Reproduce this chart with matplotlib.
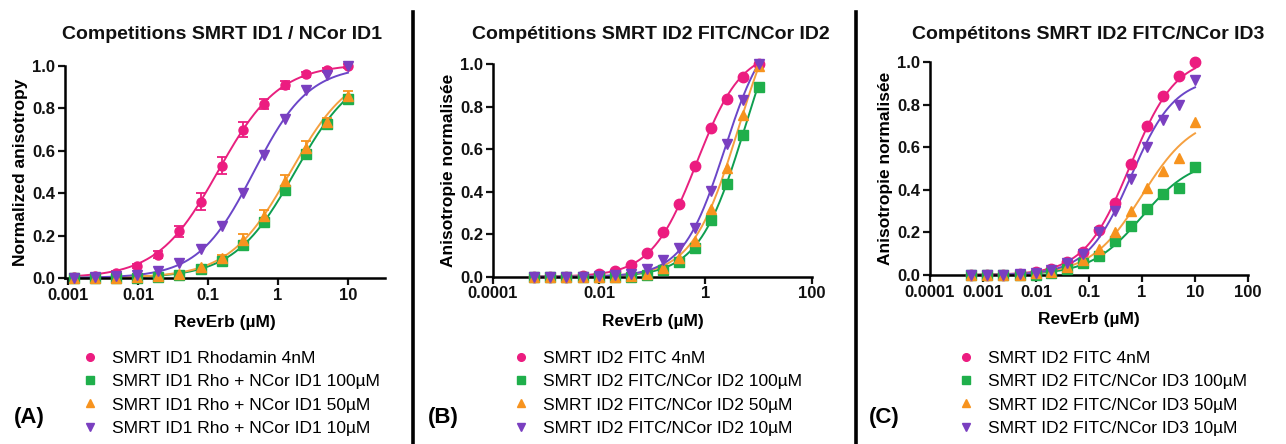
import numpy as np
import matplotlib.pyplot as plt
from matplotlib.lines import Line2D

plt.rcParams['font.family'] = ['Liberation Sans', 'DejaVu Sans']

# concentrations (uM), 2-fold dilutions from 10
conc_a = [10, 5, 2.5, 1.25, 0.625, 0.3125, 0.156, 0.078, 0.039, 0.0195, 0.0098, 0.0049, 0.0024, 0.0012]
conc_bc = [10, 5, 2.5, 1.25, 0.625, 0.3125, 0.156, 0.078, 0.039, 0.0195, 0.0098, 0.0049, 0.0024, 0.0012, 0.0006]

# panel A values
a_rho = [1.0, 0.98, 0.96, 0.91, 0.82, 0.70, 0.53, 0.36, 0.22, 0.11, 0.055, 0.025, 0.01, 0.005]
a_100 = [0.845, 0.725, 0.585, 0.415, 0.265, 0.155, 0.08, 0.04, 0.015, 0.005, 0.0, 0.0, 0.0, 0.0]
a_50 = [0.86, 0.735, 0.615, 0.455, 0.29, 0.18, 0.095, 0.05, 0.02, 0.01, 0.005, 0.0, 0.0, 0.0]
a_10 = [1.0, 0.955, 0.885, 0.75, 0.58, 0.40, 0.245, 0.135, 0.07, 0.035, 0.015, 0.008, 0.005, 0.0]
a_rho_err = [0.01, 0.01, 0.01, 0.02, 0.025, 0.035, 0.04, 0.04, 0.025, 0.015, 0.01, 0.01, 0.01, 0.01]
a_100_err = [0.02, 0.02, 0.02, 0.02, 0.02, 0.015, 0.01, 0.01, 0.01, 0.0, 0.0, 0.0, 0.0, 0.0]
a_50_err = [0.02, 0.02, 0.03, 0.03, 0.03, 0.025, 0.015, 0.01, 0.01, 0.0, 0.0, 0.0, 0.0, 0.0]

# panel B values
b_fitc = [1.0, 0.94, 0.835, 0.70, 0.52, 0.34, 0.21, 0.11, 0.055, 0.028, 0.012, 0.005, 0.0, 0.0, 0.0]
b_100 = [0.89, 0.665, 0.435, 0.265, 0.135, 0.07, 0.03, 0.01, 0.0, 0.0, 0.0, 0.0, 0.0, 0.0, 0.0]
b_50 = [0.99, 0.76, 0.51, 0.32, 0.17, 0.09, 0.04, 0.015, 0.005, 0.0, 0.0, 0.0, 0.0, 0.0, 0.0]
b_10 = [1.0, 0.83, 0.625, 0.405, 0.23, 0.135, 0.078, 0.035, 0.015, 0.01, 0.005, 0.0, 0.0, 0.0, 0.0]

# panel C values
c_fitc = [1.0, 0.935, 0.84, 0.70, 0.52, 0.34, 0.21, 0.11, 0.063, 0.027, 0.016, 0.005, 0.0, 0.0, 0.0]
c_100 = [0.51, 0.41, 0.38, 0.31, 0.23, 0.16, 0.09, 0.055, 0.027, 0.008, 0.0, 0.0, 0.0, 0.0, 0.0]
c_50 = [0.72, 0.55, 0.49, 0.41, 0.30, 0.20, 0.12, 0.07, 0.04, 0.015, 0.01, 0.0, 0.0, 0.0, 0.0]
c_10 = [0.915, 0.80, 0.73, 0.60, 0.45, 0.30, 0.20, 0.10, 0.055, 0.025, 0.01, 0.005, 0.0, 0.0, 0.0]

# fitted curve params (top, EC50, hill), bottom = 0
a_fits = [(1.01, 0.14, 1.0), (1.0, 1.75, 1.0), (1.0, 1.5, 1.0), (1.0, 0.45, 1.1)]
b_fits = [(1.07, 0.68, 1.02), (1.4, 5.5, 1.0), (1.4, 4.2, 1.0), (1.2, 2.3, 1.1)]
c_fits = [(1.03, 0.6, 1.0), (0.55, 1.0, 0.9), (0.75, 1.0, 0.9), (0.93, 0.62, 1.05)]

titles = ['Competitions SMRT ID1 / NCor ID1', 'Compétitions SMRT ID2 FITC/NCor ID2',
          'Compétitons SMRT ID2 FITC/NCor ID3']
ylabels = ['Normalized anisotropy', 'Anisotropie normalisée', 'Anisotropie normalisée']
a_labels = ['SMRT ID1 Rhodamin 4nM', 'SMRT ID1 Rho + NCor ID1 100µM',
            'SMRT ID1 Rho + NCor ID1 50µM', 'SMRT ID1 Rho + NCor ID1 10µM']
b_labels = ['SMRT ID2 FITC 4nM', 'SMRT ID2 FITC/NCor ID2 100µM',
            'SMRT ID2 FITC/NCor ID2 50µM', 'SMRT ID2 FITC/NCor ID2 10µM']
c_labels = ['SMRT ID2 FITC 4nM', 'SMRT ID2 FITC/NCor ID3 100µM',
            'SMRT ID2 FITC/NCor ID3 50µM', 'SMRT ID2 FITC/NCor ID3 10µM']
panel_tags = ['(A)', '(B)', '(C)']

a_xticks = [0.001, 0.01, 0.1, 1, 10]
a_xticklabels = ['0.001', '0.01', '0.1', '1', '10']
b_xticks = [0.0001, 0.01, 1, 100]
b_xticklabels = ['0.0001', '0.01', '1', '100']
c_xticks = [0.0001, 0.001, 0.01, 0.1, 1, 10, 100]
c_xticklabels = ['0.0001', '0.001', '0.01', '0.1', '1', '10', '100']

colors = ['#EC1C80', '#1FAF4B', '#F7931E', '#7A3FC0']
line_colors = ['#E8207F', '#0E9E50', '#F5A040', '#6B46C8']
markers = ['o', 's', '^', 'v']

fig = plt.figure(figsize=(12.86, 4.44), dpi=100)

panels = [
    dict(rect=[0.0505, 0.374, 0.249, 0.4775], conc=conc_a, ys=[a_rho, a_100, a_50, a_10],
         errs=[a_rho_err, a_100_err, a_50_err, None], fits=a_fits, xlim=(0.0009, 34),
         xt=a_xticks, xtl=a_xticklabels, labels=a_labels, ms=6.5,
         title_x=0.173, leg_x=0.064, tag_x=0.011),
    dict(rect=[0.3834, 0.3768, 0.2478, 0.4791], conc=conc_bc, ys=[b_fitc, b_100, b_50, b_10],
         errs=[None] * 4, fits=b_fits, xlim=(0.0001, 100),
         xt=b_xticks, xtl=b_xticklabels, labels=b_labels, ms=7.5,
         title_x=0.506, leg_x=0.399, tag_x=0.333),
    dict(rect=[0.7232, 0.3806, 0.2473, 0.4791], conc=conc_bc, ys=[c_fitc, c_100, c_50, c_10],
         errs=[None] * 4, fits=c_fits, xlim=(0.0001, 100),
         xt=c_xticks, xtl=c_xticklabels, labels=c_labels, ms=7.5,
         title_x=0.846, leg_x=0.745, tag_x=0.676),
]

for i, p in enumerate(panels):
    ax = fig.add_axes(p['rect'])
    x = np.array(p['conc'])
    xc = np.logspace(np.log10(x.min()), np.log10(x.max()), 300)
    for j in range(4):
        top, ec50, n = p['fits'][j]
        yc = top * xc ** n / (ec50 ** n + xc ** n)
        ax.plot(xc, yc, color=line_colors[j], lw=1.4, zorder=2, clip_on=False)
        if p['errs'][j] is not None:
            ax.errorbar(x, p['ys'][j], yerr=p['errs'][j], fmt='none', ecolor=colors[j],
                        elinewidth=1.3, capsize=3.5, capthick=1.3, zorder=3, clip_on=False)
        ax.plot(x, p['ys'][j], linestyle='none', marker=markers[j], ms=p['ms'],
                color=colors[j], mec=colors[j], zorder=4, clip_on=False)

    ax.set_xscale('log')
    ax.set_xlim(*p['xlim'])
    ax.set_ylim(0, 1.0)
    ax.set_xticks(p['xt'])
    ax.set_xticklabels(p['xtl'])
    ax.minorticks_off()
    ax.set_yticks([0, 0.2, 0.4, 0.6, 0.8, 1.0])
    ax.set_yticklabels(['0.0', '0.2', '0.4', '0.6', '0.8', '1.0'])
    for s in ['top', 'right']:
        ax.spines[s].set_visible(False)
    for s in ['left', 'bottom']:
        ax.spines[s].set_linewidth(1.8)
    ax.tick_params(width=1.6, length=5, labelsize=12, pad=2, colors='#111111')
    for lab in ax.get_xticklabels() + ax.get_yticklabels():
        lab.set_fontweight('bold')
    ax.set_xlabel('RevErb (µM)', fontsize=12.5, fontweight='bold', labelpad=9)
    ax.set_ylabel(ylabels[i], fontsize=12.5, fontweight='bold', labelpad=3)

    fig.text(p['title_x'], 0.922, titles[i], ha='center', va='center',
             fontsize=14, fontweight='bold', color='#111111')

    handles = [Line2D([], [], linestyle='none', marker=markers[j], color=colors[j], ms=5.5)
               for j in range(4)]
    fig.legend(handles, p['labels'], loc='upper left', bbox_to_anchor=(p['leg_x'], 0.21),
               frameon=False, fontsize=12.5, handlelength=0.9, handletextpad=0.8,
               labelspacing=0.47, borderpad=0, borderaxespad=0)
    fig.text(p['tag_x'], 0.06, panel_tags[i], ha='left', va='center',
             fontsize=16, fontweight='bold')

# separator lines between panels
for xs in [0.3215, 0.6655]:
    fig.add_artist(Line2D([xs, xs], [0, 0.973], transform=fig.transFigure,
                          color='black', lw=2.6))

fig.savefig('out.png', dpi=100)
